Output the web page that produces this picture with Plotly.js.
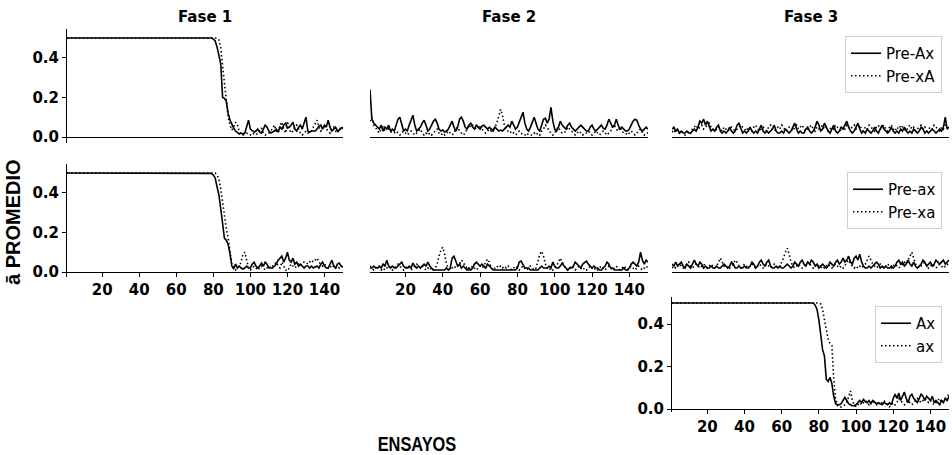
<!DOCTYPE html>
<html><head><meta charset="utf-8">
<script src="https://cdn.plot.ly/plotly-3.0.1.min.js"></script>
<style>html,body{margin:0;padding:0;background:#fff}#chart{width:952px;height:455px}
.narrow-title{transform-box:fill-box;transform-origin:center;transform:scaleX(0.82)}</style>
</head><body><div id="chart"></div>
<script>
// Trial numbers (x categories)
const ENSAYOS = Array.from({length:150}, (_, i) => i + 1);
const XTICKS = [20,40,60,80,100,120,140];
const YTICKS = [0, 0.2, 0.4];
const YTICKTEXT = ['0.0','0.2','0.4'];
const FASES = ['Fase 1','Fase 2','Fase 3'];
const NAMES_ROW1 = ['Pre-Ax','Pre-xA'];
const NAMES_ROW2 = ['Pre-ax','Pre-xa'];
const NAMES_ROW3 = ['Ax','ax'];

// Row 1 : Pre-Ax (solid) / Pre-xA (dotted)
const PRE_AX_F1 = [
0.5,0.5,0.5,0.5,0.5,0.5,0.5,0.5,0.5,0.5,
0.5,0.5,0.5,0.5,0.5,0.5,0.5,0.5,0.5,0.5,
0.5,0.5,0.5,0.5,0.5,0.5,0.5,0.5,0.5,0.5,
0.5,0.5,0.5,0.5,0.5,0.5,0.5,0.5,0.5,0.5,
0.5,0.5,0.5,0.5,0.5,0.5,0.5,0.5,0.5,0.5,
0.5,0.5,0.5,0.5,0.5,0.5,0.5,0.5,0.5,0.5,
0.5,0.5,0.5,0.5,0.5,0.5,0.5,0.5,0.5,0.5,
0.5,0.5,0.5,0.5,0.5,0.5,0.5,0.5,0.5,0.495,
0.485,0.455,0.41,0.37,0.2,0.195,0.18,0.12,0.085,0.06,
0.045,0.03,0.02,0.015,0.02,0.015,0.02,0.05,0.085,0.04,
0.03,0.025,0.03,0.04,0.025,0.02,0.04,0.06,0.05,0.03,
0.02,0.025,0.03,0.04,0.025,0.05,0.04,0.06,0.07,0.045,
0.05,0.06,0.075,0.04,0.03,0.05,0.06,0.04,0.07,0.1,
0.03,0.025,0.03,0.03,0.03,0.04,0.055,0.06,0.04,0.06,
0.05,0.085,0.05,0.03,0.04,0.05,0.03,0.035,0.045,0.05];
const PRE_XA_F1 = [
0.5,0.5,0.5,0.5,0.5,0.5,0.5,0.5,0.5,0.5,
0.5,0.5,0.5,0.5,0.5,0.5,0.5,0.5,0.5,0.5,
0.5,0.5,0.5,0.5,0.5,0.5,0.5,0.5,0.5,0.5,
0.5,0.5,0.5,0.5,0.5,0.5,0.5,0.5,0.5,0.5,
0.5,0.5,0.5,0.5,0.5,0.5,0.5,0.5,0.5,0.5,
0.5,0.5,0.5,0.5,0.5,0.5,0.5,0.5,0.5,0.5,
0.5,0.5,0.5,0.5,0.5,0.5,0.5,0.5,0.5,0.5,
0.5,0.5,0.5,0.5,0.5,0.5,0.5,0.5,0.5,0.5,
0.5,0.5,0.49,0.45,0.36,0.26,0.16,0.1,0.06,0.035,
0.05,0.075,0.06,0.03,0.015,0.01,0.015,0.02,0.015,0.01,
0.02,0.015,0.01,0.02,0.03,0.045,0.02,0.01,0.015,0.02,
0.03,0.045,0.06,0.03,0.02,0.06,0.075,0.04,0.02,0.08,
0.04,0.02,0.03,0.05,0.06,0.04,0.02,0.01,0.02,0.03,
0.02,0.025,0.03,0.05,0.07,0.085,0.05,0.03,0.04,0.06,
0.04,0.03,0.02,0.04,0.05,0.03,0.02,0.04,0.05,0.04];
const PRE_AX_F2 = [
0.24,0.09,0.07,0.06,0.05,0.04,0.06,0.03,0.05,0.04,
0.06,0.03,0.04,0.03,0.06,0.09,0.1,0.07,0.03,0.04,
0.03,0.06,0.09,0.11,0.06,0.03,0.04,0.05,0.07,0.085,
0.06,0.03,0.04,0.06,0.08,0.09,0.07,0.04,0.03,0.035,
0.025,0.03,0.04,0.06,0.08,0.05,0.03,0.05,0.09,0.1,
0.08,0.05,0.04,0.06,0.07,0.05,0.04,0.06,0.05,0.04,
0.055,0.06,0.05,0.04,0.05,0.04,0.03,0.05,0.04,0.03,
0.035,0.03,0.04,0.05,0.06,0.05,0.08,0.06,0.04,0.05,
0.08,0.1,0.125,0.07,0.04,0.03,0.05,0.08,0.1,0.07,
0.04,0.03,0.06,0.09,0.095,0.07,0.09,0.15,0.08,0.04,
0.03,0.05,0.08,0.06,0.05,0.04,0.06,0.07,0.05,0.04,
0.03,0.04,0.05,0.06,0.05,0.04,0.03,0.03,0.05,0.06,
0.04,0.03,0.04,0.05,0.06,0.045,0.04,0.06,0.09,0.07,
0.05,0.06,0.09,0.06,0.04,0.05,0.04,0.03,0.03,0.04,
0.06,0.08,0.09,0.085,0.06,0.04,0.03,0.04,0.05,0.04];
const PRE_XA_F2 = [
0.08,0.1,0.06,0.05,0.03,0.02,0.04,0.05,0.03,0.05,
0.04,0.03,0.02,0.02,0.03,0.02,0.01,0.02,0.03,0.02,
0.01,0.02,0.03,0.02,0.01,0.02,0.03,0.04,0.02,0.01,
0.02,0.01,0.02,0.01,0.02,0.03,0.04,0.02,0.01,0.02,
0.01,0.02,0.03,0.02,0.01,0.02,0.04,0.05,0.03,0.02,
0.01,0.02,0.04,0.06,0.05,0.06,0.05,0.04,0.06,0.05,
0.04,0.03,0.02,0.03,0.04,0.03,0.04,0.05,0.07,0.1,
0.14,0.11,0.06,0.04,0.03,0.02,0.03,0.02,0.01,0.02,
0.03,0.02,0.01,0.01,0.02,0.01,0.01,0.01,0.02,0.01,
0.02,0.01,0.03,0.04,0.06,0.05,0.03,0.02,0.01,0.02,
0.04,0.05,0.03,0.02,0.02,0.03,0.05,0.04,0.03,0.02,
0.01,0.02,0.03,0.02,0.01,0.02,0.02,0.03,0.02,0.01,
0.02,0.03,0.02,0.01,0.02,0.03,0.02,0.01,0.02,0.03,
0.05,0.06,0.04,0.03,0.05,0.03,0.02,0.02,0.01,0.02,
0.03,0.02,0.01,0.02,0.03,0.04,0.02,0.01,0.02,0.02];
const PRE_AX_F3 = [
0.04,0.05,0.03,0.04,0.02,0.03,0.02,0.02,0.03,0.02,
0.02,0.03,0.04,0.03,0.05,0.08,0.07,0.09,0.06,0.08,
0.05,0.03,0.04,0.03,0.05,0.06,0.03,0.02,0.03,0.02,
0.03,0.05,0.03,0.02,0.03,0.06,0.07,0.04,0.02,0.03,
0.02,0.03,0.05,0.03,0.02,0.03,0.02,0.04,0.06,0.03,
0.02,0.03,0.02,0.03,0.04,0.06,0.03,0.02,0.02,0.03,
0.02,0.04,0.03,0.02,0.03,0.05,0.07,0.04,0.02,0.03,
0.02,0.02,0.04,0.05,0.03,0.02,0.03,0.05,0.08,0.06,
0.03,0.04,0.07,0.05,0.03,0.02,0.04,0.06,0.03,0.02,
0.03,0.05,0.04,0.06,0.08,0.05,0.03,0.02,0.03,0.05,
0.07,0.04,0.02,0.03,0.02,0.04,0.03,0.02,0.03,0.05,
0.03,0.02,0.04,0.06,0.04,0.03,0.02,0.03,0.05,0.03,
0.02,0.03,0.02,0.04,0.03,0.05,0.03,0.02,0.03,0.02,
0.04,0.03,0.02,0.03,0.05,0.04,0.02,0.03,0.02,0.03,
0.04,0.03,0.02,0.03,0.04,0.03,0.05,0.1,0.04,0.05];
const PRE_XA_F3 = [
0.03,0.02,0.04,0.03,0.02,0.03,0.02,0.01,0.02,0.03,
0.02,0.04,0.05,0.06,0.04,0.05,0.06,0.04,0.05,0.06,
0.07,0.05,0.04,0.03,0.04,0.05,0.04,0.03,0.05,0.04,
0.03,0.04,0.05,0.04,0.03,0.04,0.05,0.06,0.05,0.04,
0.03,0.05,0.04,0.03,0.05,0.06,0.04,0.03,0.04,0.05,
0.04,0.03,0.05,0.06,0.04,0.03,0.04,0.05,0.04,0.06,
0.05,0.03,0.04,0.05,0.04,0.03,0.05,0.06,0.04,0.05,
0.06,0.04,0.03,0.04,0.05,0.06,0.04,0.03,0.05,0.04,
0.05,0.06,0.04,0.05,0.03,0.04,0.05,0.04,0.06,0.05,
0.04,0.03,0.05,0.04,0.06,0.05,0.04,0.05,0.06,0.04,
0.05,0.06,0.04,0.03,0.05,0.04,0.06,0.05,0.04,0.03,
0.05,0.06,0.04,0.05,0.06,0.04,0.03,0.05,0.06,0.04,
0.03,0.05,0.04,0.06,0.05,0.04,0.03,0.05,0.06,0.04,
0.05,0.03,0.04,0.05,0.06,0.04,0.05,0.03,0.04,0.05,
0.04,0.06,0.05,0.04,0.03,0.05,0.04,0.06,0.05,0.04];

// Row 2 : Pre-ax (solid) / Pre-xa (dotted)
const PRE_ax_F1 = [
0.5,0.5,0.5,0.5,0.5,0.5,0.5,0.5,0.5,0.5,
0.5,0.5,0.5,0.5,0.5,0.5,0.5,0.5,0.5,0.5,
0.5,0.5,0.5,0.5,0.5,0.5,0.5,0.5,0.5,0.5,
0.5,0.5,0.5,0.5,0.5,0.5,0.5,0.5,0.5,0.5,
0.5,0.5,0.5,0.5,0.5,0.5,0.5,0.5,0.5,0.5,
0.5,0.5,0.5,0.5,0.5,0.5,0.5,0.5,0.5,0.5,
0.5,0.5,0.5,0.5,0.5,0.5,0.5,0.5,0.5,0.5,
0.5,0.5,0.5,0.5,0.5,0.5,0.5,0.5,0.498,0.49,
0.475,0.43,0.39,0.32,0.23,0.17,0.16,0.14,0.09,0.03,
0.015,0.04,0.02,0.03,0.02,0.015,0.02,0.03,0.02,0.02,
0.04,0.05,0.03,0.02,0.03,0.045,0.03,0.05,0.04,0.02,
0.02,0.02,0.03,0.04,0.06,0.07,0.08,0.05,0.07,0.1,
0.06,0.05,0.07,0.04,0.05,0.03,0.04,0.03,0.02,0.03,
0.03,0.02,0.03,0.02,0.025,0.03,0.02,0.04,0.05,0.03,
0.02,0.02,0.04,0.06,0.03,0.02,0.04,0.045,0.03,0.025];
const PRE_xa_F1 = [
0.5,0.5,0.5,0.5,0.5,0.5,0.5,0.5,0.5,0.5,
0.5,0.5,0.5,0.5,0.5,0.5,0.5,0.5,0.5,0.5,
0.5,0.5,0.5,0.5,0.5,0.5,0.5,0.5,0.5,0.5,
0.5,0.5,0.5,0.5,0.5,0.5,0.5,0.5,0.5,0.5,
0.5,0.5,0.5,0.5,0.5,0.5,0.5,0.5,0.5,0.5,
0.5,0.5,0.5,0.5,0.5,0.5,0.5,0.5,0.5,0.5,
0.5,0.5,0.5,0.5,0.5,0.5,0.5,0.5,0.5,0.5,
0.5,0.5,0.5,0.5,0.5,0.5,0.5,0.5,0.5,0.5,
0.5,0.49,0.47,0.42,0.35,0.28,0.22,0.17,0.1,0.04,
0.02,0.01,0.02,0.03,0.05,0.09,0.1,0.06,0.02,0.01,
0.02,0.03,0.02,0.01,0.02,0.03,0.02,0.01,0.02,0.03,
0.02,0.03,0.04,0.05,0.03,0.02,0.05,0.03,0.01,0.005,
0.02,0.04,0.03,0.02,0.03,0.04,0.03,0.04,0.05,0.05,
0.04,0.05,0.06,0.05,0.06,0.07,0.05,0.04,0.03,0.04,
0.03,0.02,0.03,0.02,0.03,0.02,0.03,0.02,0.03,0.02];
const PRE_ax_F2 = [
0.02,0.02,0.03,0.02,0.02,0.03,0.02,0.04,0.03,0.06,
0.03,0.02,0.03,0.02,0.02,0.03,0.04,0.05,0.03,0.02,
0.02,0.03,0.02,0.045,0.03,0.02,0.03,0.02,0.03,0.04,
0.03,0.05,0.03,0.02,0.01,0.01,0.01,0.01,0.01,0.01,
0.01,0.02,0.01,0.02,0.07,0.08,0.05,0.03,0.04,0.02,
0.03,0.02,0.01,0.02,0.01,0.02,0.04,0.05,0.04,0.03,
0.04,0.03,0.02,0.04,0.03,0.02,0.01,0.01,0.01,0.01,
0.01,0.01,0.01,0.01,0.01,0.01,0.01,0.01,0.01,0.02,
0.05,0.055,0.04,0.02,0.02,0.02,0.01,0.01,0.01,0.01,
0.01,0.02,0.03,0.02,0.02,0.02,0.03,0.02,0.05,0.03,
0.02,0.02,0.03,0.045,0.03,0.02,0.01,0.02,0.02,0.03,
0.05,0.04,0.03,0.02,0.04,0.05,0.055,0.04,0.03,0.02,
0.03,0.02,0.02,0.01,0.01,0.02,0.03,0.05,0.04,0.02,
0.02,0.01,0.01,0.01,0.01,0.01,0.02,0.01,0.01,0.02,
0.04,0.05,0.04,0.03,0.05,0.1,0.06,0.04,0.06,0.05];
const PRE_xa_F2 = [
0.03,0.02,0.01,0.02,0.03,0.02,0.01,0.02,0.01,0.02,
0.03,0.02,0.01,0.02,0.03,0.04,0.03,0.02,0.01,0.02,
0.03,0.02,0.01,0.02,0.03,0.04,0.03,0.02,0.03,0.02,
0.01,0.02,0.01,0.02,0.01,0.02,0.04,0.08,0.11,0.125,
0.09,0.04,0.02,0.01,0.02,0.03,0.02,0.03,0.04,0.06,
0.05,0.03,0.02,0.01,0.02,0.03,0.02,0.01,0.02,0.03,
0.02,0.03,0.05,0.065,0.05,0.02,0.01,0.02,0.03,0.02,
0.03,0.02,0.03,0.02,0.03,0.02,0.01,0.02,0.03,0.02,
0.01,0.02,0.03,0.02,0.01,0.02,0.03,0.02,0.01,0.02,
0.05,0.09,0.105,0.08,0.04,0.02,0.01,0.02,0.01,0.02,
0.03,0.05,0.07,0.05,0.03,0.02,0.01,0.02,0.03,0.02,
0.01,0.02,0.03,0.02,0.01,0.02,0.01,0.02,0.03,0.02,
0.01,0.02,0.01,0.02,0.03,0.02,0.01,0.02,0.03,0.02,
0.01,0.02,0.03,0.02,0.01,0.02,0.03,0.02,0.01,0.02,
0.03,0.02,0.01,0.02,0.03,0.02,0.01,0.02,0.03,0.02];
const PRE_ax_F3 = [
0.04,0.03,0.05,0.03,0.04,0.05,0.03,0.02,0.04,0.03,
0.02,0.04,0.06,0.04,0.03,0.05,0.04,0.02,0.03,0.02,
0.02,0.03,0.02,0.02,0.03,0.02,0.02,0.03,0.04,0.03,
0.02,0.03,0.05,0.04,0.02,0.02,0.03,0.02,0.02,0.03,
0.02,0.02,0.03,0.05,0.04,0.02,0.03,0.05,0.06,0.04,
0.03,0.05,0.06,0.03,0.02,0.02,0.03,0.02,0.03,0.02,
0.02,0.03,0.04,0.03,0.02,0.03,0.05,0.04,0.03,0.05,
0.06,0.04,0.03,0.05,0.04,0.06,0.05,0.03,0.04,0.02,
0.03,0.04,0.03,0.02,0.03,0.05,0.04,0.03,0.05,0.06,
0.04,0.05,0.07,0.05,0.06,0.08,0.05,0.04,0.07,0.08,
0.06,0.09,0.05,0.03,0.02,0.02,0.03,0.02,0.03,0.04,
0.05,0.04,0.02,0.03,0.02,0.03,0.02,0.02,0.03,0.02,
0.03,0.05,0.06,0.04,0.05,0.03,0.04,0.06,0.04,0.03,
0.05,0.03,0.02,0.03,0.04,0.06,0.05,0.03,0.04,0.05,
0.03,0.04,0.06,0.05,0.04,0.05,0.06,0.04,0.05,0.06];
const PRE_xa_F3 = [
0.02,0.03,0.02,0.03,0.04,0.03,0.02,0.03,0.04,0.05,
0.03,0.02,0.03,0.04,0.03,0.02,0.03,0.04,0.03,0.02,
0.03,0.04,0.03,0.02,0.03,0.05,0.07,0.05,0.03,0.02,
0.03,0.02,0.03,0.04,0.06,0.05,0.03,0.02,0.03,0.04,
0.03,0.02,0.03,0.04,0.03,0.02,0.03,0.04,0.03,0.02,
0.03,0.04,0.03,0.02,0.03,0.04,0.03,0.02,0.03,0.05,
0.07,0.1,0.12,0.09,0.05,0.03,0.02,0.03,0.04,0.03,
0.02,0.03,0.04,0.05,0.04,0.03,0.02,0.03,0.04,0.03,
0.02,0.03,0.02,0.03,0.04,0.03,0.02,0.03,0.04,0.03,
0.02,0.03,0.02,0.03,0.05,0.06,0.04,0.03,0.02,0.03,
0.02,0.03,0.02,0.03,0.04,0.06,0.08,0.06,0.04,0.03,
0.02,0.03,0.04,0.03,0.02,0.03,0.04,0.03,0.02,0.03,
0.04,0.03,0.02,0.03,0.04,0.05,0.04,0.06,0.08,0.1,
0.07,0.04,0.03,0.02,0.03,0.04,0.05,0.03,0.02,0.03,
0.04,0.03,0.02,0.03,0.04,0.03,0.02,0.03,0.04,0.03];

// Row 3 (Fase 3 only): Ax (solid) / ax (dotted)
const AX_F3 = [
0.5,0.5,0.5,0.5,0.5,0.5,0.5,0.5,0.5,0.5,
0.5,0.5,0.5,0.5,0.5,0.5,0.5,0.5,0.5,0.5,
0.5,0.5,0.5,0.5,0.5,0.5,0.5,0.5,0.5,0.5,
0.5,0.5,0.5,0.5,0.5,0.5,0.5,0.5,0.5,0.5,
0.5,0.5,0.5,0.5,0.5,0.5,0.5,0.5,0.5,0.5,
0.5,0.5,0.5,0.5,0.5,0.5,0.5,0.5,0.5,0.5,
0.5,0.5,0.5,0.5,0.5,0.5,0.5,0.5,0.5,0.5,
0.5,0.5,0.5,0.5,0.5,0.5,0.5,0.49,0.47,0.42,
0.36,0.28,0.25,0.14,0.13,0.15,0.12,0.06,0.025,0.02,
0.02,0.025,0.04,0.055,0.04,0.025,0.02,0.015,0.015,0.02,
0.03,0.04,0.03,0.045,0.035,0.03,0.04,0.025,0.04,0.03,
0.025,0.03,0.025,0.02,0.03,0.025,0.02,0.03,0.02,0.05,
0.07,0.05,0.075,0.04,0.06,0.08,0.05,0.03,0.06,0.07,
0.05,0.04,0.03,0.05,0.07,0.06,0.04,0.06,0.05,0.04,
0.06,0.03,0.04,0.03,0.02,0.04,0.03,0.05,0.04,0.06];
const AX_LOW_F3 = [
0.5,0.5,0.5,0.5,0.5,0.5,0.5,0.5,0.5,0.5,
0.5,0.5,0.5,0.5,0.5,0.5,0.5,0.5,0.5,0.5,
0.5,0.5,0.5,0.5,0.5,0.5,0.5,0.5,0.5,0.5,
0.5,0.5,0.5,0.5,0.5,0.5,0.5,0.5,0.5,0.5,
0.5,0.5,0.5,0.5,0.5,0.5,0.5,0.5,0.5,0.5,
0.5,0.5,0.5,0.5,0.5,0.5,0.5,0.5,0.5,0.5,
0.5,0.5,0.5,0.5,0.5,0.5,0.5,0.5,0.5,0.5,
0.5,0.5,0.5,0.5,0.5,0.5,0.5,0.5,0.5,0.5,
0.495,0.47,0.42,0.37,0.33,0.31,0.3,0.14,0.05,0.015,
0.01,0.01,0.015,0.02,0.03,0.06,0.085,0.04,0.02,0.01,
0.02,0.03,0.02,0.03,0.04,0.03,0.02,0.03,0.04,0.03,
0.02,0.03,0.02,0.03,0.04,0.03,0.02,0.01,0.02,0.03,
0.02,0.03,0.05,0.04,0.03,0.02,0.03,0.04,0.03,0.02,
0.03,0.04,0.05,0.04,0.03,0.04,0.05,0.04,0.03,0.04,
0.03,0.02,0.03,0.04,0.05,0.03,0.04,0.05,0.06,0.07];

// ---------- layout geometry (pixels in a 952x455 figure) ----------
const W = 952, H = 455;
const COLS = [[67,343],[370,648],[672,949]];
const ROWS = [
  {top:29,  bottom:143, zero:137, ppu:198},
  {top:164, bottom:277, zero:272, ppu:198},
  {top:297, bottom:412, zero:409, ppu:212}
];
const PANELS = [
  {row:0,col:0,s:PRE_AX_F1,d:PRE_XA_F1,names:NAMES_ROW1,leg:'legend', show:true, xl:false,yl:true},
  {row:0,col:1,s:PRE_AX_F2,d:PRE_XA_F2,names:NAMES_ROW1,leg:'legend', show:false,xl:false,yl:false},
  {row:0,col:2,s:PRE_AX_F3,d:PRE_XA_F3,names:NAMES_ROW1,leg:'legend', show:false,xl:false,yl:false},
  {row:1,col:0,s:PRE_ax_F1,d:PRE_xa_F1,names:NAMES_ROW2,leg:'legend2',show:true, xl:true, yl:true},
  {row:1,col:1,s:PRE_ax_F2,d:PRE_xa_F2,names:NAMES_ROW2,leg:'legend2',show:false,xl:true, yl:false},
  {row:1,col:2,s:PRE_ax_F3,d:PRE_xa_F3,names:NAMES_ROW2,leg:'legend2',show:false,xl:false,yl:false},
  {row:2,col:2,s:AX_F3,   d:AX_LOW_F3,names:NAMES_ROW3,leg:'legend3',show:true, xl:true, yl:true}
];

const tickFont = {family:'DejaVu Sans', size:15, color:'#000', weight:'bold'};
const traces = [];
const layout = {
  width: W, height: H, autosize:false,
  margin:{l:0,r:0,t:0,b:0,pad:0},
  paper_bgcolor:'#fff', plot_bgcolor:'rgba(0,0,0,0)',
  font:{family:'DejaVu Sans', color:'#000'},
  annotations:[], showlegend:true
};

PANELS.forEach((p, k) => {
  const n = k === 0 ? '' : String(k + 1);
  const R = ROWS[p.row], C = COLS[p.col];
  const ymax = (R.zero - R.top) / R.ppu, ymin = -(R.bottom - R.zero) / R.ppu;
  const xdom = [C[0]/W, C[1]/W];
  const ydom = [1 - R.bottom/H, 1 - R.top/H];
  layout['xaxis' + n] = {
    domain: xdom, range:[1,150], anchor:'free', position: 1 - R.zero/H,
    showline:true, linecolor:'#000', linewidth:1, showgrid:false, zeroline:false,
    tickvals: XTICKS, showticklabels: p.xl, ticks: p.xl ? 'outside' : '',
    ticklen:4, tickwidth:1, tickcolor:'#000', tickfont: tickFont, fixedrange:true
  };
  layout['yaxis' + n] = {
    domain: ydom, range:[ymin, ymax], anchor: 'x' + n,
    showline: p.yl, linecolor:'#000', linewidth:1, showgrid:false, zeroline:false,
    tickvals: YTICKS, ticktext: YTICKTEXT, showticklabels: p.yl, ticks: p.yl ? 'outside' : '',
    ticklen:4, tickwidth:1, tickcolor:'#000', tickfont: tickFont, fixedrange:true
  };
  traces.push({type:'scatter', mode:'lines', x:ENSAYOS, y:p.s, xaxis:'x'+n, yaxis:'y'+n,
    name:p.names[0], legend:p.leg, showlegend:p.show,
    line:{color:'#000', width:1.6}});
  traces.push({type:'scatter', mode:'lines', x:ENSAYOS, y:p.d, xaxis:'x'+n, yaxis:'y'+n,
    name:p.names[1], legend:p.leg, showlegend:p.show,
    line:{color:'#000', width:1.6, dash:'1.5px,2.5px'}});
});

const legBase = {xanchor:'right', yanchor:'top', bgcolor:'#fff', bordercolor:'#d0d0d0', borderwidth:1,
  font:{family:'DejaVu Sans', size:15, color:'#000'}, tracegroupgap:0};
layout.legend  = Object.assign({}, legBase, {x:942/W, y:1-36/H});
layout.legend2 = Object.assign({}, legBase, {x:942/W, y:1-172/H});
layout.legend3 = Object.assign({}, legBase, {x:942/W, y:1-306/H});

FASES.forEach((t, i) => {
  layout.annotations.push({text:t, xref:'paper', yref:'paper', x:(COLS[i][0]+COLS[i][1])/2/W, y:1-17/H,
    xanchor:'center', yanchor:'middle', showarrow:false,
    font:{family:'DejaVu Sans', size:15, color:'#000', weight:'bold'}});
});
layout.annotations.push({text:'ENSAYOS', xref:'paper', yref:'paper', x:417/W, y:1-444/H,
  xanchor:'center', yanchor:'middle', showarrow:false,
  font:{family:'Liberation Sans, Arial', size:20, color:'#000', weight:'bold'}});
layout.annotations.push({text:'ā PROMEDIO', xref:'paper', yref:'paper', x:13/W, y:1-222/H,
  xanchor:'center', yanchor:'middle', showarrow:false, textangle:-90,
  font:{family:'Liberation Sans, Arial', size:20, color:'#000', weight:'bold'}});

Plotly.newPlot('chart', traces, layout, {displayModeBar:false, staticPlot:true}).then(gd => {
  // reference title is horizontally condensed: squeeze the text element only
  gd.querySelectorAll('.annotation-text').forEach(el => {
    if (el.textContent === 'ENSAYOS') el.classList.add('narrow-title');
  });
});
</script>
</body></html>
